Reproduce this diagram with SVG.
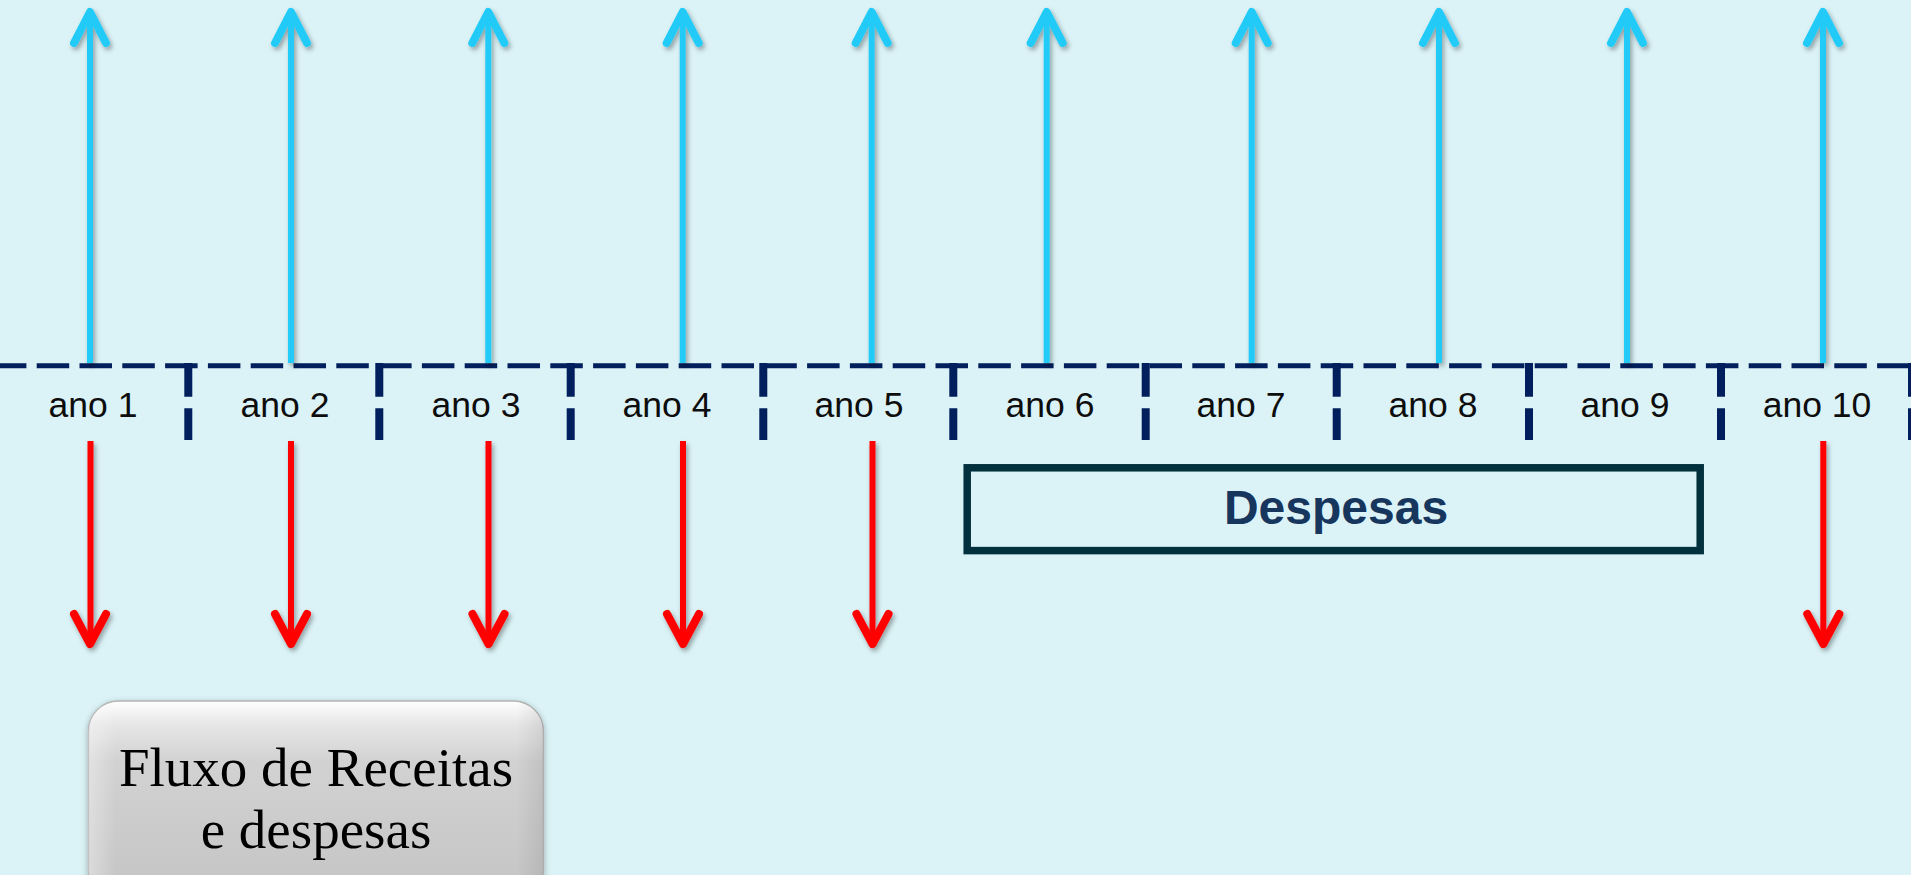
<svg xmlns="http://www.w3.org/2000/svg" width="1911" height="875" viewBox="0 0 1911 875">
<defs>
<style>
.bg{fill:#DBF3F7}
.blue{stroke:#22CBF7;fill:none;stroke-linecap:round;stroke-linejoin:round}
.red{stroke:#FF0000;fill:none;stroke-linecap:round;stroke-linejoin:round}
.shaft{stroke-width:6;stroke-linecap:butt}
.head{stroke-width:8}
.hline{stroke:#001F5C;stroke-width:5;stroke-dasharray:32.5 10.3;stroke-dashoffset:6.1;fill:none}
.div{stroke:#001F5C;stroke-width:8;stroke-dasharray:33.7 11.6 31.7 100;fill:none}
.lbl{font-family:"Liberation Sans",Arial,sans-serif;font-size:35.5px;fill:#0D0D0D;text-anchor:middle}
.desp{font-family:"Liberation Sans",Arial,sans-serif;font-size:48px;font-weight:bold;fill:#17365D;text-anchor:middle}
.flux{font-family:"Liberation Serif","Times New Roman",serif;font-size:55px;fill:#000;text-anchor:middle}
</style>
<filter id="sh" x="-50%" y="-10%" width="200%" height="120%">
<feDropShadow dx="2" dy="3" stdDeviation="2.5" flood-color="#000" flood-opacity="0.35"/>
</filter>
<filter id="sh2" x="-10%" y="-10%" width="120%" height="130%">
<feDropShadow dx="0" dy="2" stdDeviation="3" flood-color="#000" flood-opacity="0.3"/>
</filter>
<linearGradient id="gray" x1="0" y1="0" x2="0" y2="1">
<stop offset="0" stop-color="#FFFFFF"/>
<stop offset="0.12" stop-color="#E6E6E6"/>
<stop offset="0.3" stop-color="#D2D2D2"/>
<stop offset="1" stop-color="#C4C4C4"/>
</linearGradient>
<linearGradient id="side" x1="0" y1="0" x2="1" y2="0">
<stop offset="0" stop-color="#FFFFFF" stop-opacity="0.35"/>
<stop offset="0.06" stop-color="#FFFFFF" stop-opacity="0"/>
<stop offset="0.94" stop-color="#000000" stop-opacity="0"/>
<stop offset="1" stop-color="#000000" stop-opacity="0.08"/>
</linearGradient>
</defs>
<rect class="bg" x="0" y="0" width="1911" height="875"/>

<g id="timeline">
<line class="hline" x1="0" y1="365.7" x2="1911" y2="365.7"/>
<line class="div" x1="188.3" y1="363" x2="188.3" y2="440"/>
<line class="div" x1="379.3" y1="363" x2="379.3" y2="440"/>
<line class="div" x1="570.7" y1="363" x2="570.7" y2="440"/>
<line class="div" x1="763.3" y1="363" x2="763.3" y2="440"/>
<line class="div" x1="953.3" y1="363" x2="953.3" y2="440"/>
<line class="div" x1="1145.7" y1="363" x2="1145.7" y2="440"/>
<line class="div" x1="1336.7" y1="363" x2="1336.7" y2="440"/>
<line class="div" x1="1529" y1="363" x2="1529" y2="440"/>
<line class="div" x1="1721" y1="363" x2="1721" y2="440"/>
<line class="div" x1="1912" y1="363" x2="1912" y2="440"/>
</g>

<g id="ano1"><text class="lbl" x="93" y="417">ano 1</text></g>
<g id="ano2"><text class="lbl" x="285" y="417">ano 2</text></g>
<g id="ano3"><text class="lbl" x="476" y="417">ano 3</text></g>
<g id="ano4"><text class="lbl" x="667" y="417">ano 4</text></g>
<g id="ano5"><text class="lbl" x="859" y="417">ano 5</text></g>
<g id="ano6"><text class="lbl" x="1050" y="417">ano 6</text></g>
<g id="ano7"><text class="lbl" x="1241" y="417">ano 7</text></g>
<g id="ano8"><text class="lbl" x="1433" y="417">ano 8</text></g>
<g id="ano9"><text class="lbl" x="1625" y="417">ano 9</text></g>
<g id="ano10"><text class="lbl" x="1817" y="417">ano 10</text></g>

<g id="connectors">
<g filter="url(#sh)">
<g class="blue">
<path class="shaft" d="M90 363V14"/><path class="head" d="M74 43L90 12L106 43"/>
<path class="shaft" d="M291 363V14"/><path class="head" d="M275 43L291 12L307 43"/>
<path class="shaft" d="M488.3 363V14"/><path class="head" d="M472.3 43L488.3 12L504.3 43"/>
<path class="shaft" d="M682.7 363V14"/><path class="head" d="M666.7 43L682.7 12L698.7 43"/>
<path class="shaft" d="M871.7 363V14"/><path class="head" d="M855.7 43L871.7 12L887.7 43"/>
<path class="shaft" d="M1046.7 363V14"/><path class="head" d="M1030.7 43L1046.7 12L1062.7 43"/>
<path class="shaft" d="M1251.7 363V14"/><path class="head" d="M1235.7 43L1251.7 12L1267.7 43"/>
<path class="shaft" d="M1439 363V14"/><path class="head" d="M1423 43L1439 12L1455 43"/>
<path class="shaft" d="M1627 363V14"/><path class="head" d="M1611 43L1627 12L1643 43"/>
<path class="shaft" d="M1823 363V14"/><path class="head" d="M1807 43L1823 12L1839 43"/>
</g>
<g class="red">
<path class="shaft" d="M90.5 441V642"/><path class="head" d="M74 614L90 644L106 614"/>
<path class="shaft" d="M291 441V642"/><path class="head" d="M275 614L291 644L307 614"/>
<path class="shaft" d="M488.5 441V642"/><path class="head" d="M472.5 614L488.5 644L504.5 614"/>
<path class="shaft" d="M683 441V642"/><path class="head" d="M667 614L683 644L699 614"/>
<path class="shaft" d="M872.5 441V642"/><path class="head" d="M856.5 614L872.5 644L888.5 614"/>
<path class="shaft" d="M1823.3 441V642"/><path class="head" d="M1807.3 614L1823.3 644L1839.3 614"/>
</g>
</g>
</g>

<g id="despesas">
<rect x="967.2" y="467.8" width="733" height="82.8" fill="none" stroke="#02303C" stroke-width="7.5"/>
<text class="desp" x="1336" y="524">Despesas</text>
</g>

<g id="fluxo">
<rect x="88.5" y="701" width="455" height="200" rx="30" fill="url(#gray)" stroke="#B4B4B4" stroke-width="1.5" filter="url(#sh2)"/>
<rect x="88.5" y="701" width="455" height="200" rx="30" fill="url(#side)"/>
<text class="flux" x="316" y="786">Fluxo de Receitas</text>
<text class="flux" x="316" y="848">e despesas</text>
</g>
</svg>
